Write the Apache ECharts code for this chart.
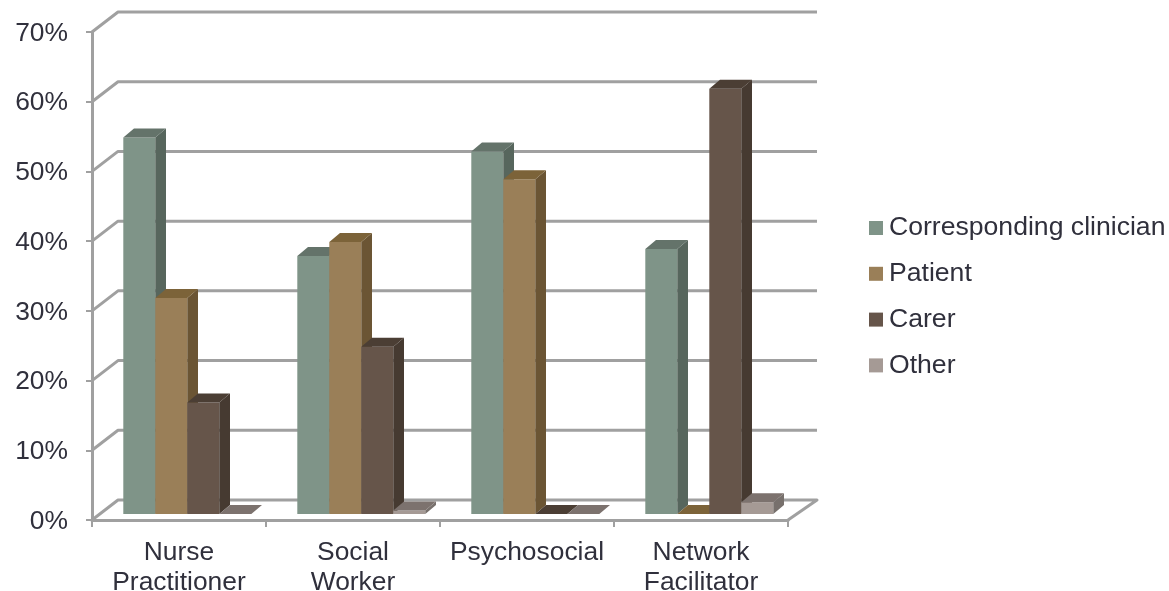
<!DOCTYPE html>
<html>
<head>
<meta charset="utf-8">
<style>html,body{margin:0;padding:0;background:#fff}#chart{width:1169px;height:591px}</style>
<script src="https://cdn.jsdelivr.net/npm/echarts@6/dist/echarts.min.js"></script>
</head>
<body>
<div id="chart"></div>
<script>
// Share of responses per role, in percent
const categories = ['Nurse\nPractitioner', 'Social\nWorker', 'Psychosocial', 'Network\nFacilitator'];
const seriesNames = ['Corresponding clinician', 'Patient', 'Carer', 'Other'];
const clinician = [54, 37, 52, 38];
const patient = [31, 39, 48, 0];
const carer = [16, 24, 0, 61];
const other = [0, 0.5, 0, 1.7];
const percentTicks = [0, 10, 20, 30, 40, 50, 60, 70];

// Face shades for each series: front, side, top
const shades = [
  ['#7f9488', '#57665d', '#64736a'],
  ['#9a7f58', '#6b5534', '#7c6339'],
  ['#66554a', '#463a31', '#4b3e34'],
  ['#a59a95', '#77706c', '#7c726e']
];
const axisGrey = '#a0a0a0';
const textColor = '#30303c';
const fontFamily = '"Liberation Sans", Arial, sans-serif';
const fontSize = 26.4;

// Fake perspective: offsets of the back wall and of the bar depth, in pixels
const wallDX = 26, wallDY = 20, wallEndDX = 29;
const barDX = 10.7, barDY = 9, barLift = 6, barShift = 8.3, barRatio = 32 / 174;

function renderWall(params, api) {
  const cs = params.coordSys;
  const y = api.coord([0, api.value(0)])[1];
  const x0 = cs.x, x1 = cs.x + cs.width;
  const points = [[x0, y], [x0 + wallDX, y - wallDY], [x1 + wallEndDX, y - wallDY]];
  if (api.value(0) === 0) points.push([x1, y]);
  return {
    type: 'polyline',
    shape: { points },
    style: { fill: null, stroke: axisGrey, lineWidth: 3, lineJoin: 'round' }
  };
}

function makeBarRenderer(index) {
  return function (params, api) {
    const [cx, top] = api.coord([api.value(0), api.value(1)]);
    const base = api.coord([api.value(0), 0])[1] - barLift;
    const t = top - barLift;
    const w = api.size([1, 0])[0] * barRatio;
    const l = cx + barShift + (index - 2) * w;
    const r = l + w;
    const [front, side, lid] = shades[index];
    const children = [];
    if (base - t > 0.01) {
      children.push({ type: 'rect', shape: { x: l, y: t, width: w, height: base - t }, style: { fill: front } });
      children.push({
        type: 'polygon',
        shape: { points: [[r, t], [r + barDX, t - barDY], [r + barDX, base - barDY], [r, base]] },
        style: { fill: side }
      });
    }
    children.push({
      type: 'polygon',
      shape: { points: [[l, t], [l + barDX, t - barDY], [r + barDX, t - barDY], [r, t]] },
      style: { fill: lid }
    });
    return { type: 'group', children };
  };
}

const valueSets = [clinician, patient, carer, other];

const chart = echarts.init(document.getElementById('chart'), null, { renderer: 'canvas' });
chart.setOption({
  animation: false,
  backgroundColor: '#ffffff',
  grid: { left: 92, right: 381, top: 32, bottom: 71, containLabel: false, outerBoundsMode: 'none' },
  xAxis: {
    type: 'category',
    data: categories,
    boundaryGap: true,
    axisLine: { onZero: false, lineStyle: { color: axisGrey, width: 3 } },
    axisTick: { show: true, alignWithLabel: false, length: 7, interval: 0, lineStyle: { color: axisGrey, width: 2 } },
    axisLabel: {
      interval: 0, margin: 18, color: textColor, fontFamily, fontSize,
      lineHeight: 30, verticalAlign: 'top', align: 'center'
    },
    splitLine: { show: false }
  },
  yAxis: {
    type: 'value',
    min: 0,
    max: 70,
    interval: 10,
    axisLine: { show: true, lineStyle: { color: axisGrey, width: 3 } },
    axisTick: { show: true, length: 6, lineStyle: { color: axisGrey, width: 2 } },
    axisLabel: {
      margin: 24, color: textColor, fontFamily, fontSize, lineHeight: 30,
      verticalAlign: 'top', padding: [-13.5, 0, 0, 0], formatter: '{value}%'
    },
    splitLine: { show: false }
  },
  legend: {
    show: true,
    orient: 'vertical',
    left: 869,
    top: 212,
    padding: 0,
    itemWidth: 14,
    itemHeight: 14,
    itemGap: 13.8,
    icon: 'rect',
    selectedMode: false,
    textStyle: { color: textColor, fontFamily, fontSize: 26.6, lineHeight: 30, padding: [2, 0, 0, 1] },
    data: seriesNames
  },
  series: [
    {
      type: 'custom',
      name: 'wall',
      silent: true,
      z: 1,
      coordinateSystem: 'cartesian2d',
      renderItem: renderWall,
      encode: { y: 0 },
      data: percentTicks.map(v => [v])
    }
  ].concat(seriesNames.map((name, i) => ({
    type: 'custom',
    name,
    silent: true,
    z: 3 + i,
    coordinateSystem: 'cartesian2d',
    itemStyle: { color: shades[i][0] },
    renderItem: makeBarRenderer(i),
    encode: { x: 0, y: 1 },
    data: valueSets[i].map((v, c) => [c, v])
  })))
});
</script>
</body>
</html>
